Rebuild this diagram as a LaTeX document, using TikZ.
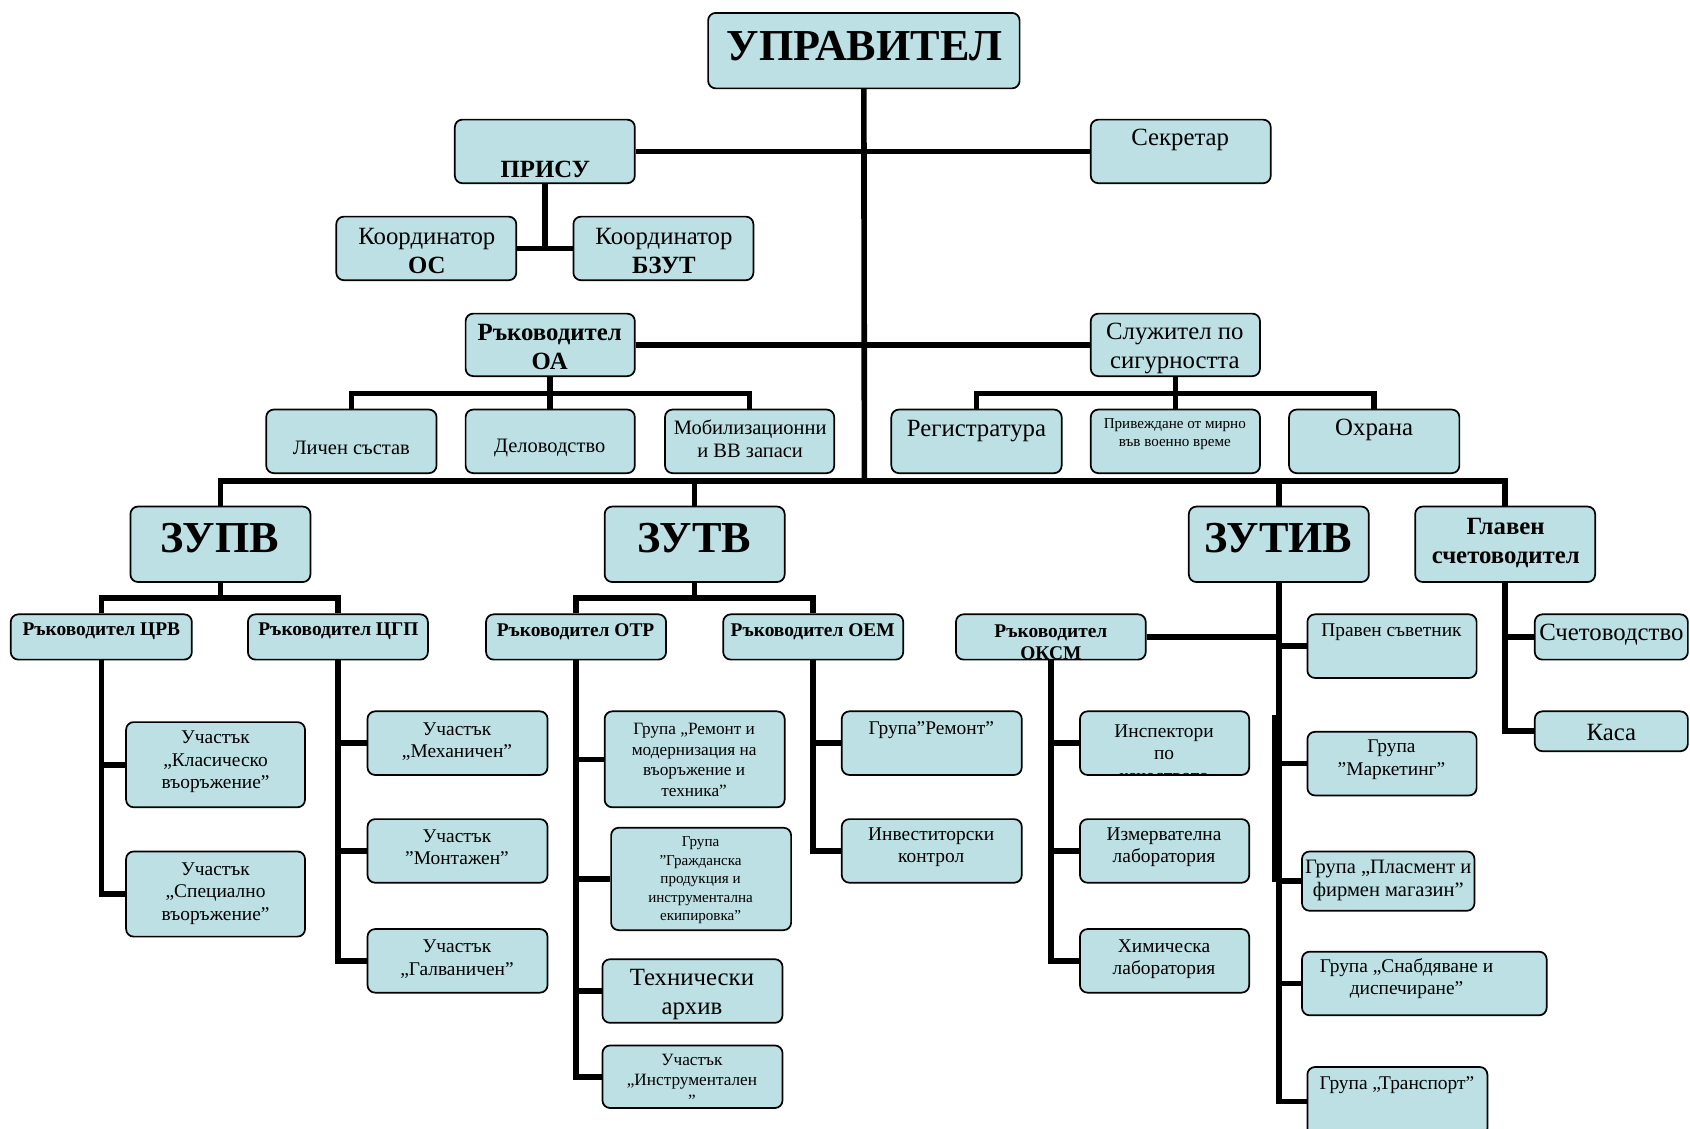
\documentclass[tikz,border=0pt]{standalone}
\usepackage{fontspec}
\setmainfont{Liberation Serif}
\usetikzlibrary{fit,backgrounds}
\definecolor{boxfill}{RGB}{188,224,227}
\tikzset{
  box/.style={draw=black, line width=0.8pt, fill=boxfill, rounded corners=3.5pt, inner sep=0pt},
  conn/.style={line width=2.6pt, black},
  txt/.style={align=center, inner sep=0pt, yshift=-1pt},
  fHuge/.style={font=\fontsize{20.5}{24}\selectfont\bfseries},
  fMain/.style={font=\fontsize{11.5}{13.5}\selectfont},
  fMainB/.style={font=\fontsize{11.5}{13.5}\selectfont\bfseries},
  fMid/.style={font=\fontsize{9.5}{11}\selectfont},
  fSmall/.style={font=\fontsize{9}{10.5}\selectfont},
  fSmallB/.style={font=\fontsize{9}{10}\selectfont\bfseries},
  fEight/.style={font=\fontsize{8}{9.5}\selectfont},
  fSeven/.style={font=\fontsize{7}{8.6}\selectfont},
}
\newcommand\bx[5]{\node[box, fit={(#2,#3) (#4,#5)}] (#1) {};}
\begin{document}
\begin{tikzpicture}[x=0.5pt,y=-0.5pt]
\useasboundingbox (0,0) rectangle (1568,1047);
% boxes
\bx{upr}{657}{12}{946}{82}
\bx{prisu}{422}{111}{589}{170}
\bx{sekr}{1012}{111}{1179}{170}
\bx{koos}{312}{201}{479}{260}
\bx{kobz}{532}{201}{699}{260}
\bx{oa}{432}{291}{589}{349}
\bx{sl}{1012}{291}{1169}{349}
\bx{lich}{247}{380}{405}{439}
\bx{delo}{432}{380}{589}{439}
\bx{mob}{617}{380}{774}{439}
\bx{reg}{827}{380}{985}{439}
\bx{priv}{1012}{380}{1169}{439}
\bx{ohr}{1196}{380}{1354}{439}
\bx{zupv}{121}{470}{288}{540}
\bx{zutv}{561}{470}{728}{540}
\bx{zutiv}{1103}{470}{1270}{540}
\bx{glav}{1313}{470}{1480}{540}
\bx{crv}{10}{570}{178}{612}
\bx{cgp}{230}{570}{397}{612}
\bx{otr}{451}{570}{618}{612}
\bx{oem}{671}{570}{838}{612}
\bx{oksm}{887}{570}{1063}{612}
\bx{prav}{1213}{570}{1370}{629}
\bx{schet}{1424}{570}{1566}{612}
\bx{kasa}{1424}{660}{1566}{697}
\bx{klas}{117}{670}{283}{749}
\bx{spec}{117}{790}{283}{869}
\bx{mech}{341}{660}{508}{719}
\bx{mont}{341}{760}{508}{819}
\bx{galv}{341}{862}{508}{921}
\bx{rem}{561}{660}{728}{749}
\bx{grazh}{567}{768}{734}{863}
\bx{arh}{559}{890}{726}{949}
\bx{instr}{559}{970}{726}{1028}
\bx{grem}{781}{660}{948}{719}
\bx{inv}{781}{760}{948}{819}
\bx{insp}{1002}{660}{1159}{719}
\bx{izm}{1002}{760}{1159}{819}
\bx{him}{1002}{862}{1159}{921}
\bx{mark}{1213}{679}{1370}{738}
\bx{plas}{1208}{790}{1368}{845}
\bx{snab}{1208}{883}{1435}{942}
\bx{trans}{1213}{990}{1380}{1054}
% texts
\node[txt,fHuge] (t-upr) at (802,41) {УПРАВИТЕЛ};
\node[txt,fMainB] (t-prisu) at (506,155) {ПРИСУ};
\node[txt,fMain] (t-sekr) at (1095,128) {Секретар};
\node[txt,fMain] (t-koos) at (396,231) {Координатор\\\textbf{ОС}};
\node[txt,fMain] (t-kobz) at (616,231) {Координатор\\\textbf{БЗУТ}};
\node[txt,fMainB] (t-oa) at (510,320) {Ръководител\\ОА};
\node[txt,fMain] (t-sl) at (1090,321) {Служител по\\сигурността};
\node[txt,fMid] (t-lich) at (326,414) {Личен състав};
\node[txt,fMid] (t-delo) at (510,414) {Деловодство};
\node[txt,fMid] (t-mob) at (696,405) {Мобилизационни\\и ВВ запаси};
\node[txt,fMain] (t-reg) at (906,398) {Регистратура};
\node[txt,fSeven] (t-priv) at (1090,401) {Привеждане от мирно\\във военно време};
\node[txt,fMain] (t-ohr) at (1275,397) {Охрана};
\node[txt,fHuge] (t-zupv) at (204,497) {ЗУПВ};
\node[txt,fHuge] (t-zutv) at (644,497) {ЗУТВ};
\node[txt,fHuge] (t-zutiv) at (1186,497) {ЗУТИВ};
\node[txt,fMainB] (t-glav) at (1397,502) {Главен\\счетоводител};
\node[txt,fSmallB] (t-crv) at (94,584) {Ръководител ЦРВ};
\node[txt,fSmallB] (t-cgp) at (314,584) {Ръководител ЦГП};
\node[txt,fSmallB] (t-otr) at (534,584) {Ръководител ОТР};
\node[txt,fSmallB] (t-oem) at (754,584) {Ръководител ОЕМ};
\begin{scope}
\clip (oksm.south west) rectangle (oksm.north east);
\node[txt,fSmallB] (t-oksm) at (975,594) {Ръководител\\ОКСМ};
\end{scope}
\node[txt,fSmall] (t-prav) at (1291,585) {Правен съветник};
\node[txt,fMain] (t-schet) at (1495,587) {Счетоводство};
\node[txt,fMain] (t-kasa) at (1495,678) {Каса};
\node[txt,fSmall] (t-klas) at (200,705) {Участък\\„Класическо\\въоръжение”};
\node[txt,fSmall] (t-spec) at (200,827) {Участък\\„Специално\\въоръжение”};
\node[txt,fSmall] (t-mech) at (424,686) {Участък\\„Механичен”};
\node[txt,fSmall] (t-mont) at (424,784) {Участък\\”Монтажен”};
\node[txt,fSmall] (t-galv) at (424,888) {Участък\\„Галваничен”};
\node[txt,fEight] (t-rem) at (644,703) {Група „Ремонт и\\модернизация на\\въоръжение и\\техника”};
\node[txt,fSeven] (t-grazh) at (650,815) {Група\\”Гражданска\\продукция и\\инструментална\\екипировка”};
\node[txt,fMain] (t-arh) at (642,921) {Технически\\архив};
\node[txt,fEight] (t-instr) at (642,1000) {Участък\\„Инструментален\\”};
\node[txt,fSmall] (t-grem) at (864,675) {Група”Ремонт”};
\node[txt,fSmall] (t-inv) at (864,784) {Инвеститорски\\контрол};
\begin{scope}
\clip (insp.south west) rectangle (insp.north east);
\node[txt,fSmall] (t-insp) at (1080,697) {Инспектори\\по\\качеството};
\end{scope}
\node[txt,fSmall] (t-izm) at (1080,784) {Измервателна\\лаборатория};
\node[txt,fSmall] (t-him) at (1080,888) {Химическа\\лаборатория};
\node[txt,fSmall] (t-mark) at (1291,703) {Група\\”Маркетинг”};
\node[txt,fMid] (t-plas) at (1288,815) {Група „Пласмент и\\фирмен магазин”};
\node[txt,fSmall] (t-snab) at (1305,906) {Група „Снабдяване и\\диспечиране”};
\node[txt,fSmall] (t-trans) at (1296,1005) {Група „Транспорт”};
% connectors
\begin{pgfonlayer}{background}
\fill[white] (0,0) rectangle (1568,1047);
\coordinate (mainbus) at (802,446);
\draw[conn] (upr.south) -- (mainbus);
\draw[conn] (prisu.east) -- (sekr.west);
\draw[conn] (prisu.south) -- (prisu.south |- koos.east);
\draw[conn] (koos.east) -- (kobz.west);
\draw[conn] (oa.east) -- (sl.west);
\coordinate (oaj) at (510.5,365);
\draw[conn] (oa.south) -- (delo.north);
\draw[conn] (lich.north) |- (oaj) -| (mob.north);
\coordinate (slj) at (1090.5,365);
\draw[conn] (sl.south) -- (priv.north);
\draw[conn] (reg.north) |- (slj) -| (ohr.north);
\draw[conn] (zupv.north) |- (mainbus) -| (glav.north);
\draw[conn] (zutv.north) -- (zutv.north |- mainbus);
\draw[conn] (zutiv.north) -- (zutiv.north |- mainbus);
\coordinate (zupvj) at (204.5,555);
\draw[conn] (zupv.south) -- (zupvj);
\draw[conn] (crv.north) |- (zupvj) -| (cgp.north);
\coordinate (zutvj) at (644.5,555);
\draw[conn] (zutv.south) -- (zutvj);
\draw[conn] (otr.north) |- (zutvj) -| (oem.north);
% ZUTIV
\draw[conn] (zutiv.south) |- (trans.west);
\draw[conn] (oksm.east) -- (oksm.east -| zutiv.south);
\draw[conn] (zutiv.south |- prav.west) -- (prav.west);
\draw[conn] (zutiv.south |- mark.west) -- (mark.west);
\draw[conn] (zutiv.south |- plas.west) -- (plas.west);
\draw[conn] (zutiv.south |- snab.west) -- (snab.west);
\coordinate (dblA) at (1182.5,663);
\coordinate (dblB) at (1182.5,818);
\draw[conn] (dblA) -- (dblB);
% Glaven
\draw[conn] (glav.south) |- (kasa.west);
\draw[conn] (glav.south |- schet.west) -- (schet.west);
% CRV
\draw[conn] (crv.south) |- (spec.west);
\draw[conn] (crv.south |- klas.west) -- (klas.west);
% CGP
\draw[conn] (cgp.south) |- (galv.west);
\draw[conn] (cgp.south |- mech.west) -- (mech.west);
\draw[conn] (cgp.south |- mont.west) -- (mont.west);
% OTR
\draw[conn] (otr.south) |- (instr.west);
\draw[conn] (otr.south |- rem.west) -- (rem.west);
\draw[conn] (otr.south |- grazh.west) -- (grazh.west);
\draw[conn] (otr.south |- arh.west) -- (arh.west);
% OEM
\draw[conn] (oem.south) |- (inv.west);
\draw[conn] (oem.south |- grem.west) -- (grem.west);
% OKSM
\draw[conn] (oksm.south) |- (him.west);
\draw[conn] (oksm.south |- insp.west) -- (insp.west);
\draw[conn] (oksm.south |- izm.west) -- (izm.west);
\end{pgfonlayer}
\end{tikzpicture}
\end{document}
